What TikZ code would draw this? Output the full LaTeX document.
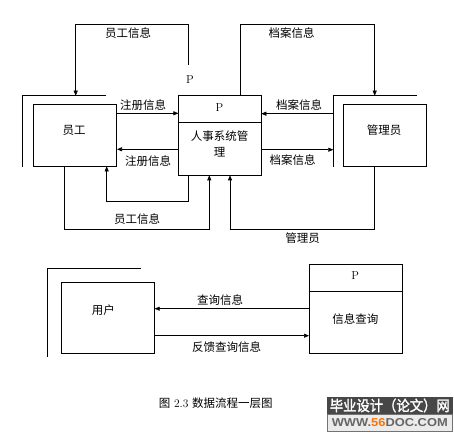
\documentclass[tikz,border=0pt]{standalone}
\usepackage{fontspec}
\usepackage{graphicx}
\newfontfamily\cjk{Noto Sans CJK SC}
\newfontfamily\cjkb[FakeBold=2]{Noto Sans CJK SC}
\newfontfamily\logolat{Liberation Sans}
\usetikzlibrary{arrows.meta}
\begin{document}
\begin{tikzpicture}[x=1pt,y=-1pt,
  line width=0.6pt,
  box/.style={draw, rectangle, inner sep=0pt},
  lbl/.style={font=\cjk\fontsize{11.5}{13}\selectfont, inner sep=0pt},
  plbl/.style={font=\fontsize{11.5}{12}\selectfont, inner sep=0pt},
  flow/.style={-{Triangle[length=5pt,width=4pt]}},
]
\useasboundingbox (0,0) rectangle (454,438);

% entity and process boxes
\node[box, minimum width=83.4pt, minimum height=61.7pt] (emp) at (75,135.2) {};
\node[lbl] at (74,130) {员工};
\node[box, minimum width=82.3pt, minimum height=79.3pt] (proc) at (219.85,135.35) {};
\coordinate (pdiv) at (0,122.3);
\draw (proc.west |- pdiv) -- (proc.east |- pdiv);
\node[plbl] (pp) at (219.5,107.5) {P};
\node[lbl, align=center, font=\cjk\fontsize{11.5}{15.5}\selectfont] (ptxt) at (219.5,144) {人事系统管\\理};
\node[box, minimum width=83pt, minimum height=61.7pt] (adm) at (384.8,135.2) {};
\node[lbl] at (384,130) {管理员};

% frame lines of external entities
\coordinate (ef1) at (106,95.7);
\coordinate (ef2) at (22.7,95.7);
\coordinate (ef3) at (22.7,167);
\draw (ef1) -- (ef2) -- (ef3);
\coordinate (af1) at (416.7,95.7);
\coordinate (af2) at (333.3,95.7);
\coordinate (af3) at (333.3,166.7);
\draw (af1) -- (af2) -- (af3);

% top loops
\coordinate (t1) at (188,65);
\coordinate (t2) at (188,24);
\coordinate (t3) at (75.7,24);
\coordinate (t4) at (75.7,95.7);
\draw[flow] (t1) -- (t2) -- (t3) -- (t4);
\node[lbl] at (128,33) {员工信息};
\node[plbl] (pfree) at (190,80) {P};

\coordinate (r1) at (240,24.3);
\coordinate (r2) at (374.7,24.3);
\coordinate (r3) at (374.7,95.7);
\draw[flow] (proc.north -| r1) -- (r1) -- (r2) -- (r3);
\node[lbl] at (291.7,33) {档案信息};

% horizontal flows
\coordinate (h1) at (0,113.3);
\coordinate (h2) at (0,149.3);
\draw[flow] (emp.east |- h1) -- (proc.west |- h1);
\node[lbl] at (143,105.5) {注册信息};
\draw[flow] (proc.west |- h2) -- (emp.east |- h2);
\node[lbl] at (148,161.5) {注册信息};
\coordinate (h3) at (0,113.7);
\coordinate (h4) at (0,149.7);
\draw[flow] (af2 |- h3) -- (proc.east |- h3);
\node[lbl] at (299,105) {档案信息};
\draw[flow] (proc.east |- h4) -- (af2 |- h4);
\node[lbl] at (292.7,160) {档案信息};

% bottom loops
\coordinate (b1) at (188.3,201.7);
\coordinate (b2) at (106.7,201.7);
\draw[flow] (proc.south -| b1) -- (b1) -- (b2) -- (emp.south -| b2);
\coordinate (c1) at (64.3,229.3);
\coordinate (c2) at (209.3,229.3);
\draw[flow] (emp.south -| c1) -- (c1) -- (c2) -- (proc.south -| c2);
\node[lbl] at (137,219.5) {员工信息};
\coordinate (d1) at (374.7,229.3);
\coordinate (d2) at (230,229.3);
\draw[flow] (adm.south -| d1) -- (d1) -- (d2) -- (proc.south -| d2);
\node[lbl] at (302.7,238) {管理员};

% lower diagram
\coordinate (uf1) at (140.7,268.3);
\coordinate (uf2) at (47.7,268.3);
\coordinate (uf3) at (47.7,357.3);
\draw (uf1) -- (uf2) -- (uf3);
\node[box, minimum width=92.6pt, minimum height=71pt] (user) at (108,317.8) {};
\node[lbl] at (103.3,310) {用户};
\node[box, minimum width=93pt, minimum height=89pt] (qry) at (355.8,308.8) {};
\coordinate (qdiv) at (0,291.7);
\draw (qry.west |- qdiv) -- (qry.east |- qdiv);
\node[plbl] at (355.3,276) {P};
\node[lbl] at (355.3,319) {信息查询};
\coordinate (g1) at (0,308.7);
\coordinate (g2) at (0,335.7);
\draw[flow] (qry.west |- g1) -- (user.east |- g1);
\node[lbl] at (220,300) {查询信息};
\draw[flow] (user.east |- g2) -- (qry.west |- g2);
\node[lbl] at (226.7,347.5) {反馈查询信息};

% caption
\node[inner sep=0pt, font=\fontsize{11.5}{13}\selectfont] at (215.7,403.3) {{\cjk 图} 2.3 {\cjk 数据流程一层图}};

% logo
\fill[black!72] (327,397) rectangle (452.7,414);
\filldraw[fill=black!8, draw=black!55, line width=0.8pt] (327,414) rectangle (452.7,431);
\node[inner sep=0pt, text=white] at (389.8,405.5) {\resizebox{120pt}{12.5pt}{\cjkb 毕业设计（论文）网}};
\node[inner sep=0pt, text=black!60] at (389.8,422.5) {\resizebox{116pt}{8pt}{\logolat\bfseries WWW.\textcolor{orange!90!red}{56}DOC.COM}};
\end{tikzpicture}
\end{document}
